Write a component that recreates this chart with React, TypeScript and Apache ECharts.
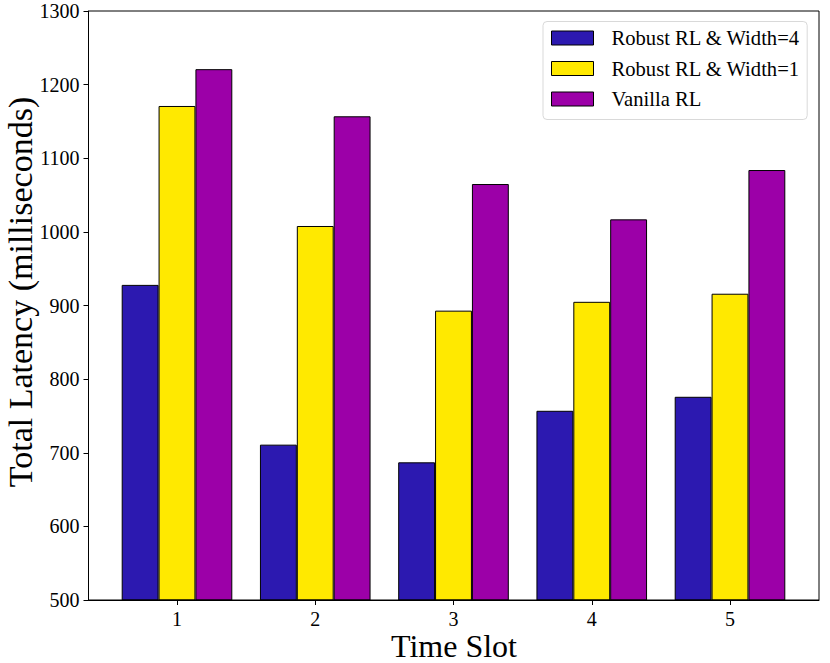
import React, { useEffect, useRef } from "react";
import * as echarts from "echarts";

const categories = ["1", "2", "3", "4", "5"];
const seriesNames = ["Robust RL & Width=4", "Robust RL & Width=1", "Vanilla RL"];
const robustW4 = [928, 711, 687, 757, 776];
const robustW1 = [1171, 1008, 893, 905, 916];
const vanilla = [1221, 1157, 1065, 1017, 1084];
const colors = ["#2c19b0", "#ffe900", "#9c00a8"];
const yMin = 500;
const yMax = 1300;
const yInterval = 100;

const FONT = "'Liberation Serif', 'Times New Roman', serif";

export default function App() {
  const ref = useRef<HTMLDivElement>(null);
  useEffect(() => {
    document.body.style.margin = "0";
    if (!ref.current) return;
    const chart = echarts.init(ref.current, null, { renderer: "svg" });
    const values = [robustW4, robustW1, vanilla];
    const frameLeft = 88.5;
    const frameRight = 819;
    const top = 11;
    const bottom = 600;
    const c1 = 177;
    const c5 = 730;
    const step = (c5 - c1) / 4;
    const barLeft = c1 - step / 2;
    const barWidth = step * 5;
    chart.setOption({
      animation: false,
      backgroundColor: "#ffffff",
      textStyle: { fontFamily: FONT },
      grid: [
        {
          left: barLeft,
          top: top,
          width: barWidth,
          height: bottom - top,
          containLabel: false,
        },
        {
          left: frameLeft,
          top: top,
          width: frameRight - frameLeft,
          height: bottom - top,
          show: true,
          borderColor: "#000",
          borderWidth: 1,
          backgroundColor: "transparent",
          z: 5,
        },
      ],
      xAxis: [
        {
          type: "category",
          gridIndex: 0,
          data: categories,
          axisLine: { show: false },
          axisTick: {
            show: true,
            alignWithLabel: true,
            length: 5,
            lineStyle: { color: "#000", width: 1 },
          },
          axisLabel: {
            fontFamily: FONT,
            fontSize: 20,
            lineHeight: 14,
            color: "#000",
            margin: 11.5,
          },
          splitLine: { show: false },
        },
        {
          type: "value",
          gridIndex: 1,
          min: 0,
          max: 1,
          axisLine: { show: true, lineStyle: { color: "#000", width: 1 } },
          axisTick: { show: false },
          axisLabel: { show: false },
          splitLine: { show: false },
        },
      ],
      yAxis: [
        {
          type: "value",
          gridIndex: 0,
          min: yMin,
          max: yMax,
          interval: yInterval,
          show: false,
          splitLine: { show: false },
        },
        {
          type: "value",
          gridIndex: 1,
          min: yMin,
          max: yMax,
          interval: yInterval,
          axisLine: { show: true, lineStyle: { color: "#000", width: 1 } },
          axisTick: {
            show: true,
            length: 5,
            lineStyle: { color: "#000", width: 1 },
          },
          axisLabel: {
            fontFamily: FONT,
            fontSize: 20,
            color: "#000",
            margin: 9,
            formatter: (v: number) => String(v),
          },
          splitLine: { show: false },
        },
      ],
      legend: {
        data: seriesNames,
        orient: "vertical",
        left: 543,
        top: 21.5,
        icon: "rect",
        itemWidth: 42,
        itemHeight: 14,
        itemGap: 9.5,
        padding: [6, 7, 10, 8],
        borderColor: "#d9d9d9",
        borderWidth: 1,
        borderRadius: 4,
        backgroundColor: "rgba(255,255,255,0.85)",
        itemStyle: { borderColor: "#000", borderWidth: 1 },
        textStyle: {
          fontFamily: FONT,
          fontSize: 20.6,
          color: "#000",
          lineHeight: 20,
          padding: [0, 0, 0, 13],
        },
        z: 10,
      },
      graphic: [
        {
          type: "text",
          x: 20,
          y: 292,
          rotation: Math.PI / 2,
          style: {
            text: "Total Latency (milliseconds)",
            fontFamily: FONT,
            fontSize: 34,
            fill: "#000",
            align: "center",
            verticalAlign: "middle",
          },
        },
        {
          type: "text",
          x: 454,
          y: 646,
          style: {
            text: "Time Slot",
            fontFamily: FONT,
            fontSize: 32,
            lineHeight: 24,
            fill: "#000",
            align: "center",
            verticalAlign: "middle",
          },
        },
      ],
      series: seriesNames.map((name, i) => ({
        name,
        type: "bar",
        xAxisIndex: 0,
        yAxisIndex: 0,
        data: values[i],
        barGap: "0%",
        barCategoryGap: "20%",
        itemStyle: {
          color: colors[i],
          borderColor: "#000",
          borderWidth: 1,
        },
      })),
    });
    return () => chart.dispose();
  }, []);
  return <div ref={ref} style={{ width: 830, height: 663 }} />;
}
